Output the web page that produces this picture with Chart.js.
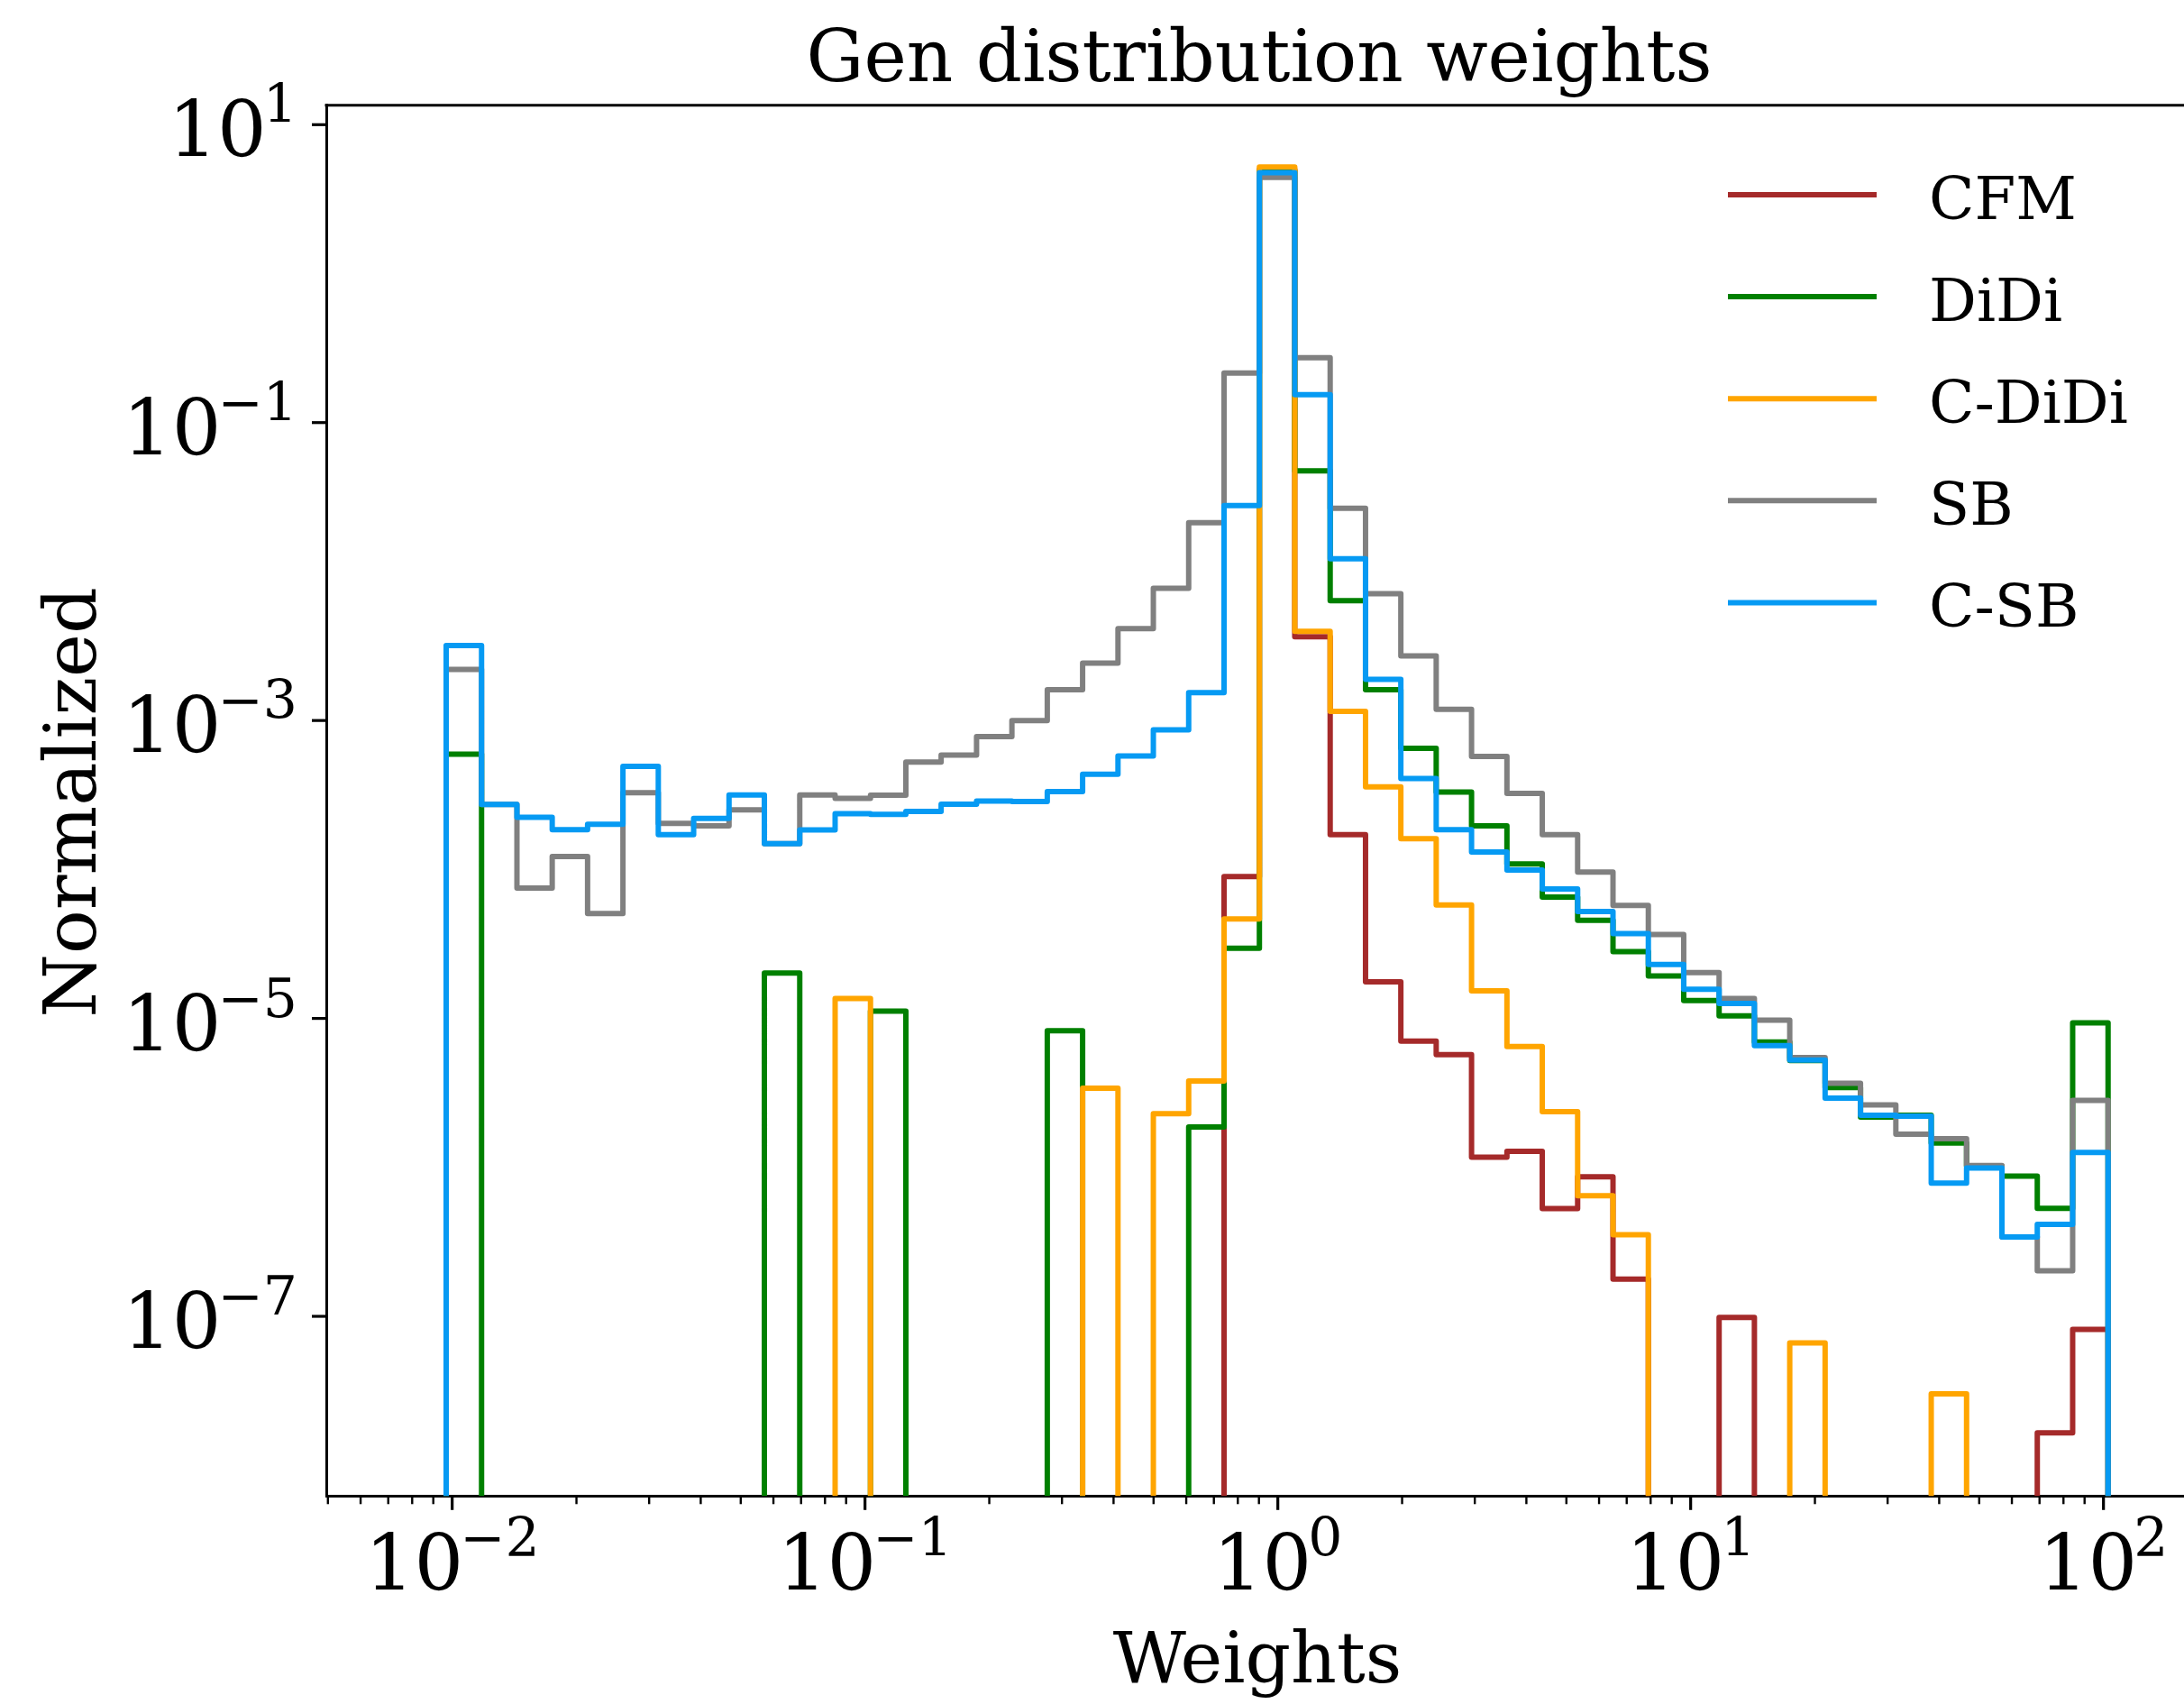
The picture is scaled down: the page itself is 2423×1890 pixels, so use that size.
<!DOCTYPE html>
<html lang="en">
<head>
<meta charset="UTF-8">
<title>Gen distribution weights</title>
<script src="https://cdn.jsdelivr.net/npm/chart.js@4"></script>
<style>
  html, body { margin: 0; padding: 0; background: #fff; overflow: hidden; }
  canvas { display: block; }
</style>
</head>
<body>
<canvas id="chart" width="2423" height="1890"></canvas>
<script>
// histogram bin edges (47 log-spaced bins)
const binEdges = [
  0.009669, 0.01178, 0.01435, 0.01747, 0.02128, 0.02592, 0.03157, 0.03845, 0.04684, 0.05705,
  0.06949, 0.08464, 0.1031, 0.1256, 0.1529, 0.1863, 0.2269, 0.2764, 0.3366, 0.4100,
  0.4994, 0.6082, 0.7408, 0.9023, 1.099, 1.339, 1.631, 1.986, 2.419, 2.946,
  3.589, 4.371, 5.324, 6.485, 7.898, 9.620, 11.72, 14.27, 17.38, 21.17,
  25.79, 31.41, 38.26, 46.60, 56.76, 69.13, 84.21, 102.6
];

const seriesNames = ['CFM', 'DiDi', 'C-DiDi', 'SB', 'C-SB'];

// normalized counts per bin, 0 = empty bin
const cfm = [
  0, 0, 0, 0, 0, 0, 0, 0, 0, 0,
  0, 0, 0, 0, 0, 0, 0, 0, 0, 0,
  0, 0, 8.95e-5, 5.01, 3.65e-3, 1.71e-4, 1.76e-5, 7.05e-6, 5.71e-6, 1.17e-6,
  1.28e-6, 5.28e-7, 8.65e-7, 1.78e-7, 0, 0, 9.84e-8, 0, 0, 0,
  0, 0, 0, 0, 0, 1.65e-8, 8.17e-8
];
const didi = [
  5.94e-4, 0, 0, 0, 0, 0, 0, 0, 0, 2.02e-5,
  0, 0, 1.12e-5, 0, 0, 0, 0, 8.28e-6, 0, 0,
  0, 1.87e-6, 2.96e-5, 4.90, 4.75e-2, 6.37e-3, 1.61e-3, 6.50e-4, 3.31e-4, 1.96e-4,
  1.09e-4, 6.53e-5, 4.55e-5, 2.81e-5, 1.93e-5, 1.32e-5, 1.04e-5, 6.95e-6, 5.21e-6, 3.43e-6,
  2.18e-6, 2.24e-6, 1.46e-6, 1.02e-6, 8.73e-7, 5.30e-7, 9.33e-6
];
const cdidi = [
  0, 0, 0, 0, 0, 0, 0, 0, 0, 0,
  0, 1.36e-5, 0, 0, 0, 0, 0, 0, 3.40e-6, 0,
  2.29e-6, 3.80e-6, 4.66e-5, 5.20, 3.97e-3, 1.15e-3, 3.59e-4, 1.61e-4, 5.77e-5, 1.53e-5,
  6.47e-6, 2.37e-6, 6.46e-7, 3.53e-7, 0, 0, 0, 0, 6.64e-8, 0,
  0, 0, 3.02e-8, 0, 0, 0, 0
];
const sb = [
  2.20e-3, 2.73e-4, 7.50e-5, 1.22e-4, 5.06e-5, 3.28e-4, 2.04e-4, 1.96e-4, 2.51e-4, 1.49e-4,
  3.16e-4, 3.00e-4, 3.15e-4, 5.26e-4, 5.87e-4, 7.80e-4, 1.00e-3, 1.61e-3, 2.43e-3, 4.14e-3,
  7.73e-3, 2.13e-2, 0.215, 4.43, 0.273, 2.66e-2, 7.10e-3, 2.71e-3, 1.19e-3, 5.73e-4,
  3.24e-4, 1.71e-4, 9.59e-5, 5.74e-5, 3.66e-5, 2.03e-5, 1.36e-5, 9.75e-6, 5.46e-6, 3.67e-6,
  2.63e-6, 1.67e-6, 1.56e-6, 1.03e-6, 3.41e-7, 2.02e-7, 2.82e-6
];
const csb = [
  3.19e-3, 2.73e-4, 2.24e-4, 1.85e-4, 2.01e-4, 4.92e-4, 1.71e-4, 2.20e-4, 3.16e-4, 1.49e-4,
  1.84e-4, 2.37e-4, 2.34e-4, 2.45e-4, 2.74e-4, 2.88e-4, 2.86e-4, 3.33e-4, 4.36e-4, 5.78e-4,
  8.67e-4, 1.54e-3, 2.77e-2, 4.76, 0.154, 1.22e-2, 1.89e-3, 4.08e-4, 1.85e-4, 1.31e-4,
  9.91e-5, 7.40e-5, 5.22e-5, 3.71e-5, 2.30e-5, 1.57e-5, 1.26e-5, 6.56e-6, 5.26e-6, 2.92e-6,
  2.24e-6, 2.21e-6, 7.85e-7, 9.89e-7, 3.41e-7, 4.15e-7, 1.26e-6
];

// tick labels as powers of ten
const xTickExps = [-2, -1, 0, 1, 2];
const yTickExps = [1, -1, -3, -5, -7];

const FONT = '"DejaVu Serif", serif';
const FLOOR = 1e-30;   // empty bins drop below the axis

// histtype="step": start and end on the floor
function stepPoints(vals) {
  const n = vals.length;
  const pts = [{ x: binEdges[0], y: FLOOR }];
  vals.forEach((v, i) => pts.push({ x: binEdges[i], y: v > 0 ? v : FLOOR }));
  pts.push({ x: binEdges[n], y: vals[n - 1] > 0 ? vals[n - 1] : FLOOR });
  pts.push({ x: binEdges[n], y: FLOOR });
  return pts;
}

function drawPower(ctx, exp, x, y, align) {
  const base = '10';
  const sup = exp < 0 ? '\u2212' + Math.abs(exp) : String(exp);
  ctx.font = '86px ' + FONT;
  const wb = ctx.measureText(base).width;
  ctx.font = '60px ' + FONT;
  const ws = ctx.measureText(sup).width;
  const kern = -4;
  const total = wb + kern + ws;
  const x0 = align === 'center' ? x - total / 2 : x - total;
  ctx.textAlign = 'left';
  ctx.textBaseline = 'alphabetic';
  ctx.font = '86px ' + FONT;
  ctx.fillText(base, x0, y);
  ctx.font = '60px ' + FONT;
  ctx.fillText(sup, x0 + wb + kern, y - 37);
}

const decorations = {
  id: 'decorations',
  afterDraw(chart) {
    const { ctx, chartArea: area, scales: { x, y } } = chart;
    ctx.save();
    ctx.strokeStyle = '#000';
    ctx.fillStyle = '#000';
    ctx.lineCap = 'butt';

    // top spine (right spine falls outside the picture)
    ctx.lineWidth = 3;
    ctx.beginPath();
    ctx.moveTo(area.left - 1.5, area.top);
    ctx.lineTo(area.right, area.top);
    ctx.stroke();

    // x ticks, major + minor
    for (let k = -3; k <= 2; k++) {
      for (let m = 1; m <= 9; m++) {
        const v = m * Math.pow(10, k);
        if (v < x.min || v > x.max) continue;
        const px = x.getPixelForValue(v);
        const major = m === 1;
        ctx.lineWidth = major ? 3.2 : 2.4;
        ctx.beginPath();
        ctx.moveTo(px, area.bottom);
        ctx.lineTo(px, area.bottom + (major ? 15.5 : 9));
        ctx.stroke();
      }
    }
    xTickExps.forEach(e => drawPower(ctx, e, x.getPixelForValue(Math.pow(10, e)), 1763, 'center'));

    // y ticks
    yTickExps.forEach(e => {
      const py = y.getPixelForValue(Math.pow(10, e));
      ctx.lineWidth = 3.2;
      ctx.beginPath();
      ctx.moveTo(area.left - 16, py);
      ctx.lineTo(area.left, py);
      ctx.stroke();
      drawPower(ctx, e, 330, py + 35, 'right');
    });

    // title and axis labels
    ctx.textAlign = 'center';
    ctx.textBaseline = 'alphabetic';
    ctx.font = '80px ' + FONT;
    ctx.fillText('Gen distribution weights', 1397, 90);
    ctx.font = '79px ' + FONT;
    ctx.fillText('Weights', 1395, 1866);
    ctx.save();
    ctx.translate(106, 890);
    ctx.rotate(-Math.PI / 2);
    ctx.font = '81px ' + FONT;
    ctx.fillText('Normalized', 0, 0);
    ctx.restore();

    // legend
    seriesNames.forEach((name, i) => {
      const ds = chart.data.datasets.find(d => d.label === name);
      const ly = 216 + i * 113.1;
      ctx.strokeStyle = ds.borderColor;
      ctx.lineWidth = 6;
      ctx.beginPath();
      ctx.moveTo(1917, ly);
      ctx.lineTo(2082, ly);
      ctx.stroke();
      ctx.fillStyle = '#000';
      ctx.textAlign = 'left';
      ctx.font = '66px ' + FONT;
      ctx.fillText(name, 2140, ly + 27);
    });
    ctx.restore();
  }
};

const colors = ['#a52a2a', '#008000', '#ffa500', '#808080', '#069af3'];
const values = [cfm, didi, cdidi, sb, csb];

const datasets = seriesNames.map((name, i) => ({
  label: name,
  data: stepPoints(values[i]),
  borderColor: colors[i],
  borderWidth: 6,
  stepped: true,
  pointRadius: 0,
  fill: false,
  borderJoinStyle: 'round',
  borderCapStyle: 'butt',
  clip: { left: 0, top: 0, right: 0, bottom: 0 },
  order: seriesNames.length - i   // later series on top, like matplotlib
}));

new Chart(document.getElementById('chart').getContext('2d'), {
  type: 'line',
  data: { datasets: datasets },
  options: {
    responsive: false,
    animation: false,
    events: [],
    layout: { padding: { left: 362, top: 116.7, right: 0, bottom: 230.7 } },
    scales: {
      x: {
        type: 'logarithmic',
        min: 0.004955,
        max: 156.7,
        bounds: 'data',
        z: 1,
        grid: { display: false, drawTicks: false, tickLength: 0 },
        border: { display: true, color: '#000', width: 3 },
        ticks: { display: false }
      },
      y: {
        type: 'logarithmic',
        min: 6.22e-9,
        max: 13.51,
        bounds: 'data',
        z: 1,
        grid: { display: false, drawTicks: false, tickLength: 0 },
        border: { display: true, color: '#000', width: 3 },
        ticks: { display: false }
      }
    },
    plugins: {
      legend: { display: false },
      tooltip: { enabled: false },
      title: { display: false }
    }
  },
  plugins: [decorations]
});
</script>
</body>
</html>
